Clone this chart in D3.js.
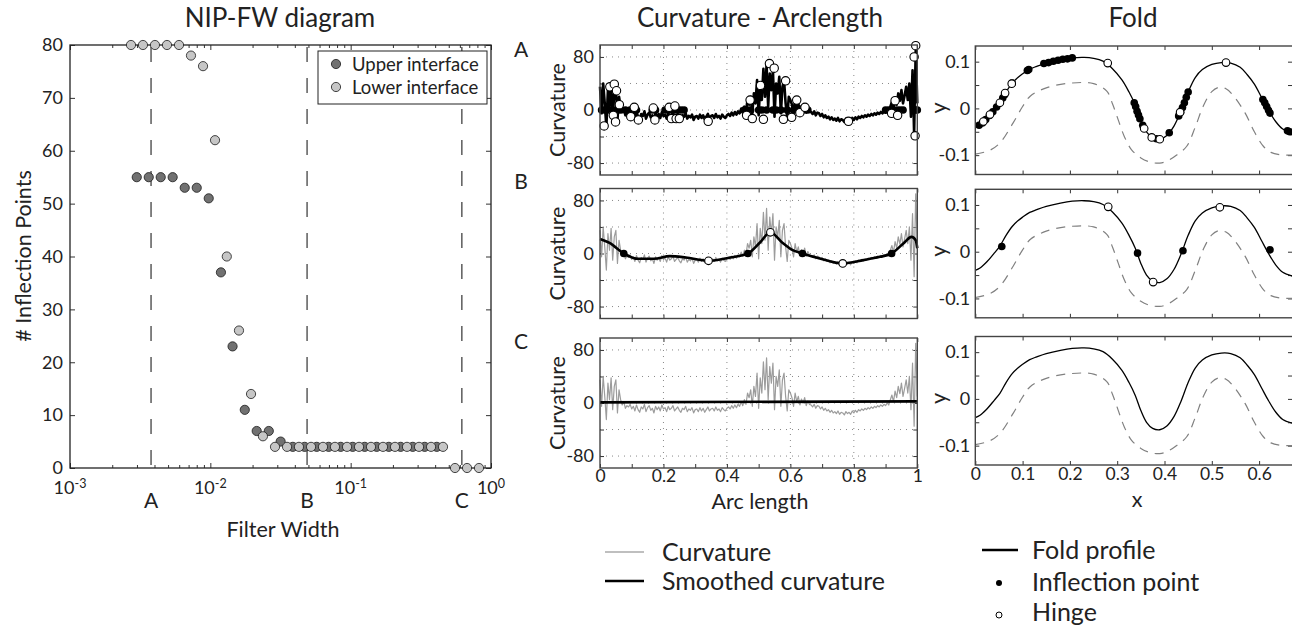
<!DOCTYPE html>
<html>
<head>
<meta charset="utf-8">
<script src="https://d3js.org/d3.v7.min.js"></script>
<style>
body { margin: 0; background: #fff; }
svg { display: block; font-family: Lato, "Open Sans", sans-serif; }
</style>
</head>
<body>
<svg id="fig" width="1292" height="627"></svg>
<script>
// ---- NIP-FW diagram data ----
var fwLower = [0.00272, 0.00331, 0.00403, 0.00491, 0.00598, 0.00728, 0.00887, 0.0108, 0.0131, 0.0160,
  0.0195, 0.0237, 0.0289, 0.0352, 0.0428, 0.0522, 0.0635, 0.0773, 0.0942, 0.1147,
  0.1396, 0.170, 0.207, 0.252, 0.307, 0.374, 0.455, 0.554, 0.675, 0.821];
var nipLower = [80, 80, 80, 80, 80, 78, 76, 62, 40, 26, 14, 6, 4, 4, 4, 4, 4, 4, 4, 4,
  4, 4, 4, 4, 4, 4, 4, 0, 0, 0];
var fwUpper = [0.00299, 0.00364, 0.00443, 0.00539, 0.00657, 0.00800, 0.00974, 0.0119, 0.0144, 0.0176,
  0.0214, 0.0261, 0.0317, 0.0387, 0.0470, 0.0573, 0.0697, 0.0849, 0.1034, 0.1259,
  0.1533, 0.187, 0.227, 0.277, 0.337, 0.411];
var nipUpper = [55, 55, 55, 55, 53, 53, 51, 37, 23, 11, 7, 7, 5, 4, 4, 4, 4, 4, 4, 4,
  4, 4, 4, 4, 4, 4];
var fwMarks = [0.00378, 0.0489, 0.62];
var fwMarkLabels = ["A", "B", "C"];
var nipTicks = [0, 10, 20, 30, 40, 50, 60, 70, 80];
var fwDecades = [1e-3, 1e-2, 1e-1, 1];
var fwDecadeLabels = ["-3", "-2", "-1", "0"];

// ---- curvature data (arc length 0..1, step 0.005) ----
var arcStep = 0.005;
var curvRaw = [
  35, -5, 40, 10, -25, 30, 5, 38, -10, 25, 35, -15, 20, 5,
  -3, 2, -8, -4, -6, -2, -9,
  -5, -12, -3, -10, -14, -6, -9, -2, -13, -7,
  -4, -11, -8, -15, -5, -10, -6, -12, -3, -9,
  -7, -13, -5, -10, -8, -4, -12, -9, -6, -11,
  -14, -8, -10, -5, -13, -9, -11, -7, -15, -10,
  -9, -13, -7, -12, -8, -14, -10, -6, -12, -9,
  -8, -12, -6, -11, -9, -13, -7, -10, -12, -8,
  -6, -9, -4, -8, -3, -7, -2, -5, 2, -4,
  5, -2, 15, 8, 20,
  -5, 25, 10, 45, -8, 38, 15, 62, 20, 68, 5, 55, 30, 60, -10, 40, 25, 50, -5, 35, 45, 10, -12, 20, 15,
  8, -5, 15, 2, 10, -3, 6, 0, 8, -4, 3, -2,
  -3, -6, -2, -8, -4, -5, -9, -6, -11, -8,
  -12, -10, -14, -11, -15, -13, -16, -12, -17, -14,
  -15, -18, -13, -16, -14, -17, -12, -15, -11, -14,
  -10, -12, -9, -11, -8, -10, -7, -9,
  -6, -8, -5, -7, -4, -6, -3, -5, -2, -4, 0, -3,
  5, 12, 2, 18, 8, 25, 14, 30, 10, 22, 35,
  15, 40, -10, 60, -35, 90, 10
];
var smoothBS = [0, 0.03, 0.075, 0.12, 0.17, 0.22, 0.27, 0.342, 0.41, 0.466, 0.505, 0.537, 0.573, 0.604, 0.638, 0.69, 0.765, 0.83, 0.882, 0.919, 0.956, 0.982, 0.995, 1.0];
var smoothBK = [22, 16, 0, -8, -8, -4, -6, -11, -6, 0, 17, 32, 17, 6, 0, -7, -15, -10, -5, 0, 15, 25, 20, 8];
var smoothCS = [0, 1];
var smoothCK = [1, 2.5];
var inflAS = [0.005, 0.015, 0.025, 0.04, 0.055, 0.065, 0.08, 0.095, 0.105, 0.115, 0.165, 0.175, 0.205, 0.215,
  0.225, 0.235, 0.245, 0.255, 0.265, 0.455, 0.465, 0.475, 0.5, 0.51, 0.525, 0.545, 0.555, 0.57, 0.59,
  0.61, 0.625, 0.64, 0.655, 0.9, 0.91, 0.92, 0.935, 0.945, 0.955, 0.995, 1.0];
var hingeA = [[0.013, -24], [0.031, 35], [0.045, 39], [0.052, 29], [0.061, 8], [0.042, -8], [0.049, -18],
  [0.097, -10], [0.108, 4], [0.121, -15], [0.168, 3], [0.173, -15], [0.218, 4], [0.236, 6], [0.225, -13],
  [0.24, -13], [0.25, -13], [0.341, -17], [0.462, -8], [0.473, 15], [0.48, -13], [0.506, 37], [0.515, -14],
  [0.534, 70], [0.549, 63], [0.578, -14], [0.585, 44], [0.604, -11], [0.62, 15], [0.63, -4], [0.646, 4],
  [0.783, -17], [0.919, -5], [0.93, 14], [0.938, -8], [0.99, 80], [0.995, 97], [0.993, -39]];
var inflBS = [0.075, 0.466, 0.638, 0.919];
var hingeB = [[0.342, -11], [0.537, 32], [0.765, -15]];
var arcTicks = [0, 0.1, 0.2, 0.3, 0.4, 0.5, 0.6, 0.7, 0.8, 0.9, 1];
var arcGrid = [0.2, 0.4, 0.6, 0.8];
var curvTicks = [-80, -40, 0, 40, 80];

// ---- fold profile data ----
var foldX = [0, 0.01, 0.025, 0.04, 0.052, 0.065, 0.078, 0.09, 0.1, 0.115, 0.13, 0.15, 0.18, 0.205, 0.23, 0.25,
  0.27, 0.29, 0.31, 0.325, 0.338, 0.35, 0.362, 0.375, 0.39, 0.405, 0.42, 0.435, 0.45, 0.465, 0.48, 0.5,
  0.52, 0.54, 0.56, 0.575, 0.59, 0.605, 0.62, 0.635, 0.65, 0.67];
var foldY = [-0.040, -0.035, -0.021, -0.003, 0.012, 0.035, 0.054, 0.066, 0.074, 0.084, 0.090, 0.097, 0.104, 0.108, 0.109, 0.107,
  0.101, 0.085, 0.061, 0.035, 0.008, -0.025, -0.050, -0.063, -0.066, -0.058, -0.038, -0.005, 0.035, 0.066, 0.083, 0.094,
  0.098, 0.097, 0.088, 0.072, 0.052, 0.024, -0.004, -0.028, -0.044, -0.052];
var lowerX = [0, 0.03, 0.052, 0.08, 0.1, 0.116, 0.15, 0.2, 0.25, 0.278, 0.29, 0.302, 0.315, 0.33, 0.35, 0.37,
  0.39, 0.405, 0.425, 0.447, 0.465, 0.482, 0.5, 0.515, 0.53, 0.545, 0.57, 0.59, 0.609, 0.625, 0.644, 0.67];
var lowerY = [-0.098, -0.09, -0.074, -0.031, 0.004, 0.026, 0.044, 0.054, 0.053, 0.037, 0.01, -0.024, -0.06, -0.088, -0.106, -0.115,
  -0.117, -0.113, -0.1, -0.081, -0.04, 0.005, 0.036, 0.045, 0.042, 0.028, -0.009, -0.05, -0.081, -0.094, -0.099, -0.1];
var foldInflA = [[0.008, -0.036], [0.015, -0.031], [0.022, -0.024], [0.03, -0.015], [0.037, -0.007], [0.045, 0.003],
  [0.058, 0.022], [0.062, 0.029], [0.078, 0.054], [0.11, 0.081], [0.113, 0.083], [0.145, 0.096], [0.155, 0.098],
  [0.165, 0.101], [0.175, 0.103], [0.185, 0.105], [0.195, 0.106], [0.205, 0.108], [0.336, 0.012], [0.339, 0.004],
  [0.342, -0.006], [0.345, -0.014], [0.348, -0.022], [0.354, -0.036], [0.383, -0.065], [0.41, -0.052],
  [0.43, -0.016], [0.434, -0.008], [0.438, 0.002], [0.442, 0.012], [0.446, 0.024], [0.45, 0.035],
  [0.608, 0.019], [0.612, 0.012], [0.616, 0.004], [0.62, -0.004], [0.623, -0.01], [0.66, -0.048], [0.665, -0.05]];
var foldHingeA = [[0.017, -0.028], [0.031, -0.013], [0.052, 0.012], [0.063, 0.033], [0.077, 0.053], [0.28, 0.097],
  [0.357, -0.043], [0.373, -0.062], [0.39, -0.066], [0.433, -0.008], [0.53, 0.098]];
var foldInflB = [[0.056, 0.011], [0.343, -0.003], [0.439, 0.002], [0.623, 0.004]];
var foldHingeB = [[0.281, 0.096], [0.376, -0.065], [0.517, 0.095]];
var foldXTicks = [0, 0.1, 0.2, 0.3, 0.4, 0.5, 0.6];
var foldYTicks = [-0.1, -0.05, 0, 0.05, 0.1];

var svg = d3.select("#fig");
var ink = "#222";

function styleAxis(g, size) {
  g.select(".domain").remove();
  g.selectAll(".tick line").attr("stroke", "#333");
  g.selectAll(".tick text").attr("fill", ink).attr("font-size", size || 18)
    .attr("font-family", "Lato, 'Open Sans', sans-serif");
}

function label(txt, x, y, size, anchor, rot) {
  var t = svg.append("text").text(txt).attr("font-size", size).attr("fill", ink)
    .attr("text-anchor", anchor || "middle");
  if (rot) t.attr("transform", "translate(" + x + "," + y + ") rotate(-90)");
  else t.attr("x", x).attr("y", y);
  return t;
}

// ================= NIP-FW panel =================
var xL = d3.scaleLog().domain([1e-3, 1]).range([70, 491]);
var yL = d3.scaleLinear().domain([0, 80]).range([468, 45]);
var gL = svg.append("g");

var minors = [];
[1e-3, 1e-2, 1e-1].forEach(function(b) { for (var m = 2; m < 10; m++) minors.push(b * m); });

gL.append("g").attr("transform", "translate(0,468)")
  .call(d3.axisBottom(xL).tickValues(minors).tickSize(-3).tickFormat("")).call(styleAxis);
gL.append("g").attr("transform", "translate(0,468)")
  .call(d3.axisBottom(xL).tickValues(fwDecades).tickSize(-5).tickFormat("")).call(styleAxis);
gL.append("g").attr("transform", "translate(0,45)")
  .call(d3.axisTop(xL).tickValues(minors).tickSize(-3).tickFormat("")).call(styleAxis);
gL.append("g").attr("transform", "translate(0,45)")
  .call(d3.axisTop(xL).tickValues(fwDecades).tickSize(-5).tickFormat("")).call(styleAxis);
gL.append("g").attr("transform", "translate(70,0)")
  .call(d3.axisLeft(yL).tickValues(nipTicks).tickSize(-5).tickPadding(7)).call(styleAxis);
gL.append("g").attr("transform", "translate(491,0)")
  .call(d3.axisRight(yL).tickValues(nipTicks).tickSize(-5).tickFormat("")).call(styleAxis);

gL.selectAll("line.fwmark").data(fwMarks).join("line")
  .attr("x1", function(d) { return xL(d); }).attr("x2", function(d) { return xL(d); })
  .attr("y1", 47).attr("y2", 468)
  .attr("stroke", "#333").attr("stroke-width", 1.2).attr("stroke-dasharray", "15,16");

gL.append("rect").attr("x", 70).attr("y", 45).attr("width", 421).attr("height", 423)
  .attr("fill", "none").attr("stroke", ink).attr("stroke-width", 1.3);

gL.selectAll("circle.up").data(fwUpper).join("circle")
  .attr("cx", function(d) { return xL(d); })
  .attr("cy", function(d, i) { return yL(nipUpper[i]); })
  .attr("r", 4.6).attr("fill", "#717171").attr("stroke", "#1a1a1a").attr("stroke-width", 0.8);
gL.selectAll("circle.lo").data(fwLower).join("circle")
  .attr("cx", function(d) { return xL(d); })
  .attr("cy", function(d, i) { return yL(nipLower[i]); })
  .attr("r", 4.6).attr("fill", "#c6c6c6").attr("stroke", "#1a1a1a").attr("stroke-width", 0.8);

// legend
gL.append("rect").attr("x", 318).attr("y", 51).attr("width", 169).attr("height", 53)
  .attr("fill", "#fff").attr("stroke", ink).attr("stroke-width", 1);
[["Upper interface", "#717171", 64], ["Lower interface", "#c6c6c6", 87]].forEach(function(it) {
  gL.append("circle").attr("cx", 336).attr("cy", it[2]).attr("r", 4.6)
    .attr("fill", it[1]).attr("stroke", "#1a1a1a").attr("stroke-width", 0.8);
  gL.append("text").attr("x", 352).attr("y", it[2] + 6.5).attr("font-size", 18.5)
    .attr("fill", ink).text(it[0]);
});

// decade labels 10^k
fwDecades.forEach(function(d, i) {
  var t = gL.append("text").attr("x", xL(d)).attr("y", 494).attr("text-anchor", "middle")
    .attr("font-size", 18).attr("fill", ink);
  t.append("tspan").text("10");
  t.append("tspan").attr("dy", -6).attr("font-size", 12.5).text(fwDecadeLabels[i]);
});
fwMarks.forEach(function(d, i) {
  gL.append("text").attr("x", xL(d)).attr("y", 508).attr("text-anchor", "middle")
    .attr("font-size", 21).attr("fill", ink).text(fwMarkLabels[i]);
});

label("NIP-FW diagram", 280, 27, 26);
label("# Inflection Points", 31, 256, 21.5, "middle", true);
label("Filter Width", 283, 537, 21.5);

// ================= Curvature panels =================
var xC = d3.scaleLinear().domain([0, 1]).range([600, 917.3]);

function curvPanel(top, opts) {
  var y = d3.scaleLinear().domain([-98, 98]).range([top + 130, top]);
  var g = svg.append("g");
  g.selectAll("line.gx").data(arcGrid).join("line")
    .attr("x1", function(d) { return xC(d); }).attr("x2", function(d) { return xC(d); })
    .attr("y1", top).attr("y2", top + 130)
    .attr("stroke", "#888").attr("stroke-width", 1).attr("stroke-dasharray", "1,5");
  g.selectAll("line.gy").data(curvTicks).join("line")
    .attr("x1", 600).attr("x2", 917.3)
    .attr("y1", function(d) { return y(d); }).attr("y2", function(d) { return y(d); })
    .attr("stroke", "#888").attr("stroke-width", 1).attr("stroke-dasharray", "1,5");

  g.append("g").attr("transform", "translate(600,0)")
    .call(d3.axisLeft(y).tickValues(curvTicks).tickSize(-4).tickPadding(6)
      .tickFormat(function(d) { return d % 80 === 0 ? d : ""; }))
    .call(styleAxis);
  g.append("g").attr("transform", "translate(917.3,0)")
    .call(d3.axisRight(y).tickValues(curvTicks).tickSize(-4).tickFormat("")).call(styleAxis);
  g.append("g").attr("transform", "translate(0," + top + ")")
    .call(d3.axisTop(xC).tickValues(arcTicks).tickSize(-4).tickFormat("")).call(styleAxis);
  g.append("g").attr("transform", "translate(0," + (top + 130) + ")")
    .call(d3.axisBottom(xC).tickValues(arcTicks).tickSize(-4).tickPadding(2)
      .tickFormat(function(d, i) { return opts.xLabels && i % 2 === 0 ? String(+d.toFixed(1)) : ""; }))
    .call(function(g) { styleAxis(g, 17.5); });

  var raw = d3.line().x(function(d, i) { return xC(i * arcStep); }).y(function(d) { return y(d); });
  g.append("path").datum(curvRaw).attr("d", raw).attr("fill", "none")
    .attr("stroke", opts.rawColor).attr("stroke-width", opts.rawWidth).attr("stroke-linejoin", "round");

  if (opts.smoothS) {
    var sm = d3.line().curve(d3.curveMonotoneX)
      .x(function(d) { return xC(d); }).y(function(d, i) { return y(opts.smoothK[i]); });
    g.append("path").datum(opts.smoothS).attr("d", sm).attr("fill", "none")
      .attr("stroke", "#000").attr("stroke-width", 2.6);
  }
  if (opts.infl) {
    g.selectAll("circle.inf").data(opts.infl).join("circle")
      .attr("cx", function(d) { return xC(d); }).attr("cy", y(0))
      .attr("r", 3.8).attr("fill", "#000");
  }
  if (opts.hinge) {
    g.selectAll("circle.hg").data(opts.hinge).join("circle")
      .attr("cx", function(d) { return xC(d[0]); }).attr("cy", function(d) { return y(d[1]); })
      .attr("r", opts.hingeR).attr("fill", "#fff").attr("stroke", "#000").attr("stroke-width", 1.1);
  }
  g.append("rect").attr("x", 600).attr("y", top).attr("width", 317.3).attr("height", 130)
    .attr("fill", "none").attr("stroke", "#444").attr("stroke-width", 1.4);

  label("Curvature", 565, top + 65, 21.5, "middle", true);
}

curvPanel(45, { rawColor: "#000", rawWidth: 2.6, infl: inflAS, hinge: hingeA, hingeR: 4.2 });
curvPanel(188.5, { rawColor: "#9c9c9c", rawWidth: 1.2, smoothS: smoothBS, smoothK: smoothBK,
  infl: inflBS, hinge: hingeB, hingeR: 3.8 });
curvPanel(338, { rawColor: "#9c9c9c", rawWidth: 1.2, smoothS: smoothCS, smoothK: smoothCK, xLabels: true });

label("A", 521, 57, 21);
label("B", 521, 189, 21);
label("C", 521, 349, 21);
label("Curvature - Arclength", 760, 27, 26);
label("Arc length", 760, 509, 21.5);

// ================= Fold panels =================
var xF = d3.scaleLinear().domain([0, 0.67]).range([975.3, 975.3 + 0.67 * 473]);

function foldPanel(top, infl, hinge, xLabels) {
  var h = 128.5;
  var y = d3.scaleLinear().domain([-0.1414, 0.1335]).range([top + h, top]);
  var g = svg.append("g");
  g.append("g").attr("transform", "translate(975.3,0)")
    .call(d3.axisLeft(y).tickValues(foldYTicks).tickSize(-4).tickPadding(5)
      .tickFormat(function(d, i) { return i % 2 === 0 ? String(d) : ""; }))
    .call(styleAxis);
  g.append("g").attr("transform", "translate(1292,0)")
    .call(d3.axisRight(y).tickValues(foldYTicks).tickSize(-4).tickFormat("")).call(styleAxis);
  g.append("g").attr("transform", "translate(0," + top + ")")
    .call(d3.axisTop(xF).tickValues(foldXTicks).tickSize(-4).tickFormat("")).call(styleAxis);
  g.append("g").attr("transform", "translate(0," + (top + h) + ")")
    .call(d3.axisBottom(xF).tickValues(foldXTicks).tickSize(-4).tickPadding(3)
      .tickFormat(function(d) { return xLabels ? String(d) : ""; }))
    .call(function(g) { styleAxis(g, 17.5); });

  var lo = d3.line().curve(d3.curveCatmullRom)
    .x(function(d) { return xF(d); }).y(function(d, i) { return y(lowerY[i]); });
  g.append("path").datum(lowerX).attr("d", lo).attr("fill", "none")
    .attr("stroke", "#808080").attr("stroke-width", 1.2).attr("stroke-dasharray", "9,7");
  var up = d3.line().curve(d3.curveCatmullRom)
    .x(function(d) { return xF(d); }).y(function(d, i) { return y(foldY[i]); });
  g.append("path").datum(foldX).attr("d", up).attr("fill", "none")
    .attr("stroke", "#000").attr("stroke-width", 1.3);

  if (infl) {
    g.selectAll("circle.inf").data(infl).join("circle")
      .attr("cx", function(d) { return xF(d[0]); }).attr("cy", function(d) { return y(d[1]); })
      .attr("r", 3.8).attr("fill", "#000");
  }
  if (hinge) {
    g.selectAll("circle.hg").data(hinge).join("circle")
      .attr("cx", function(d) { return xF(d[0]); }).attr("cy", function(d) { return y(d[1]); })
      .attr("r", 3.8).attr("fill", "#fff").attr("stroke", "#000").attr("stroke-width", 1.1);
  }
  g.append("rect").attr("x", 975.3).attr("y", top).attr("width", 320).attr("height", h)
    .attr("fill", "none").attr("stroke", "#444").attr("stroke-width", 1.4);
  label("y", 946, top + 62, 21.5, "middle", true);
}

foldPanel(46, foldInflA, foldHingeA, false);
foldPanel(189.3, foldInflB, foldHingeB, false);
foldPanel(336.5, null, null, true);

label("Fold", 1133, 27, 26);
label("x", 1137, 507, 21.5);

// ================= bottom legends =================
svg.append("line").attr("x1", 605).attr("x2", 644).attr("y1", 552).attr("y2", 552)
  .attr("stroke", "#aaa").attr("stroke-width", 1.6);
label("Curvature", 662, 561, 25, "start");
svg.append("line").attr("x1", 605).attr("x2", 644).attr("y1", 581).attr("y2", 581)
  .attr("stroke", "#000").attr("stroke-width", 2.6);
label("Smoothed curvature", 662, 590, 25, "start");

svg.append("line").attr("x1", 982).attr("x2", 1018).attr("y1", 550).attr("y2", 550)
  .attr("stroke", "#000").attr("stroke-width", 2.6);
label("Fold profile", 1032, 559, 25, "start");
svg.append("circle").attr("cx", 999).attr("cy", 583).attr("r", 3).attr("fill", "#000");
label("Inflection point", 1032, 591, 25, "start");
svg.append("circle").attr("cx", 999).attr("cy", 615).attr("r", 3).attr("fill", "#fff")
  .attr("stroke", "#000").attr("stroke-width", 1);
label("Hinge", 1032, 621, 25, "start");
</script>
</body>
</html>
